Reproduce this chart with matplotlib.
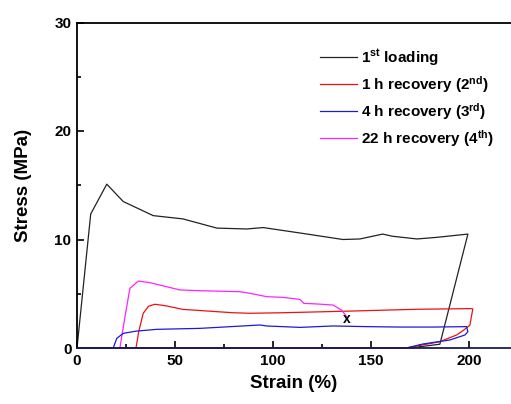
import matplotlib
matplotlib.use("Agg")
import matplotlib.pyplot as plt
from matplotlib.ticker import MultipleLocator

plt.rcParams["font.family"] = ["Liberation Sans", "DejaVu Sans"]
plt.rcParams["font.weight"] = "bold"
plt.rcParams["mathtext.fontset"] = "custom"
plt.rcParams["mathtext.rm"] = "Liberation Sans:bold"
plt.rcParams["mathtext.default"] = "rm"

# 1st loading (strain %, stress MPa)
load1_x = [0, 7.0, 15.2, 23.6, 38.9, 54, 71.4, 86.7, 95, 113.8, 135.7, 144.4,
           156, 161, 173.5, 183.7, 199.5, 185.2, 170, 0]
load1_y = [0, 12.35, 15.1, 13.5, 12.2, 11.9, 11.05, 10.97, 11.1, 10.6, 10.0, 10.05,
           10.5, 10.3, 10.05, 10.2, 10.5, 0.35, 0.0, 0.0]

# 1 h recovery (2nd)
rec1_x = [0, 30.1, 31.5, 33.8, 36.5, 39.8, 45, 54, 79.6, 88, 105, 139, 173.5,
          201.4, 202, 200.5, 197, 193.7, 185.2, 168, 0]
rec1_y = [0, 0, 1.5, 3.2, 3.85, 4.03, 3.9, 3.56, 3.25, 3.2, 3.25, 3.4, 3.57,
          3.63, 3.6, 2.1, 1.6, 1.2, 0.58, 0.0, 0]

# 4 h recovery (3rd)
rec4_x = [0, 18.5, 20.3, 23.6, 30, 40.7, 62.8, 93.4, 96.8, 113.8, 130.6, 147.8,
          164.8, 181.6, 198.8, 199.5, 198, 190.3, 176.6, 168, 0]
rec4_y = [0, 0, 0.89, 1.35, 1.55, 1.72, 1.81, 2.12, 2.03, 1.9, 2.03, 1.97,
          1.93, 1.93, 1.97, 1.5, 1.2, 0.74, 0.37, 0.0, 0]

# 22 h recovery (4th)
rec22_x = [0, 21.9, 24.5, 27, 31.3, 37.2, 52.6, 62.8, 83.2, 88.3, 96.8, 105,
           113.8, 115.8, 122.3, 130.6, 135, 137.6]
rec22_y = [0, 0, 2.9, 5.5, 6.17, 6.02, 5.35, 5.28, 5.19, 5.04, 4.73, 4.67,
           4.48, 4.11, 4.06, 3.96, 3.5, 2.89]

break_x, break_y = 137.6, 2.64

fig = plt.figure(figsize=(5.11, 4.04), dpi=100)
ax = fig.add_axes([77 / 511, 56 / 404, 434 / 511, 325.5 / 404])

kw = dict(lw=0.9, clip_on=False)
ax.plot(load1_x, load1_y, color="#222222", label=r"1$^{\mathrm{st}}$ loading", **kw)
ax.plot(rec1_x, rec1_y, color="#ee1111", label=r"1 h recovery (2$^{\mathrm{nd}}$)", **kw)
ax.plot(rec22_x, rec22_y, color="#ff22ff", label=r"22 h recovery (4$^{\mathrm{th}}$)", **kw)
ax.plot(rec4_x, rec4_y, color="#1a1adc", label=r"4 h recovery (3$^{\mathrm{rd}}$)", **kw)
ax.text(break_x, break_y, "x", ha="center", va="center", fontsize=10, color="black")

ax.set_xlim(0, 221.5)
ax.set_ylim(0, 30)
ax.xaxis.set_major_locator(MultipleLocator(50))
ax.xaxis.set_minor_locator(MultipleLocator(25))
ax.yaxis.set_major_locator(MultipleLocator(10))
ax.yaxis.set_minor_locator(MultipleLocator(5))
ax.tick_params(which="both", direction="in", top=False, right=False, width=1.2)
ax.tick_params(which="major", length=5, labelsize=11, pad=4)
ax.tick_params(which="minor", length=3)
for lab in ax.get_xticklabels() + ax.get_yticklabels():
    lab.set_fontweight("bold")

ax.spines["right"].set_visible(False)
for s in ("left", "bottom", "top"):
    ax.spines[s].set_linewidth(1.3)
ax.spines["bottom"].set_color("#1c1c50")

ax.set_xlabel("Strain (%)", fontsize=13.5, fontweight="bold", labelpad=5)
ax.set_ylabel("Stress (MPa)", fontsize=13.5, fontweight="bold", labelpad=16)

handles, labels = ax.get_legend_handles_labels()
order = [0, 1, 3, 2]
ax.legend([handles[i] for i in order], [labels[i] for i in order],
          loc="upper left", bbox_to_anchor=(320 / 511, 1 - 47 / 404),
          bbox_transform=fig.transFigure, frameon=False, borderpad=0,
          borderaxespad=0, handlelength=2.4, handletextpad=0.3,
          labelspacing=0.4, prop={"weight": "bold", "size": 11})

fig.savefig("out.png", dpi=100, facecolor="white")
